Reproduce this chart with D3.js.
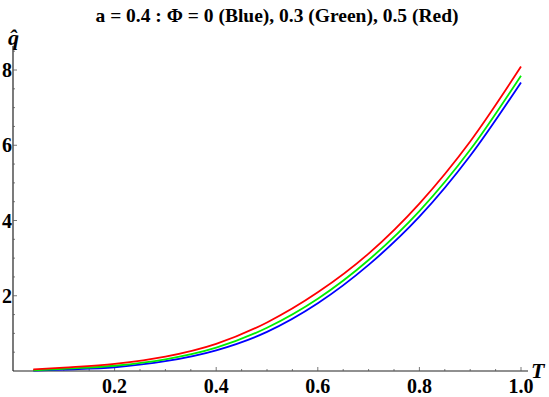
<!DOCTYPE html>
<html><head><meta charset="utf-8">
<script src="https://cdn.jsdelivr.net/npm/d3@7"></script>
<style>body{margin:0;background:#fff}svg{display:block}</style>
</head><body>
<script>
const title = "a = 0.4 : \u03A6 = 0 (Blue), 0.3 (Green), 0.5 (Red)";
const T = [0.04, 0.1, 0.2, 0.3, 0.4, 0.5, 0.6, 0.7, 0.8, 0.9, 1.0];
const qBlue  = [0.01, 0.04, 0.10, 0.26, 0.55, 1.04, 1.80, 2.82, 4.10, 5.72, 7.67];
const qGreen = [0.02, 0.06, 0.14, 0.31, 0.62, 1.15, 1.92, 2.95, 4.25, 5.88, 7.85];
const qRed   = [0.04, 0.09, 0.19, 0.38, 0.72, 1.29, 2.09, 3.12, 4.45, 6.10, 8.09];
const xTicks = [0.2, 0.4, 0.6, 0.8, 1.0];
const yTicks = [2, 4, 6, 8];
const seriesNames = ["Blue", "Green", "Red"];
const seriesColors = ["#0000ff", "#00ee00", "#ff0000"];

const FONT = "'Liberation Serif', 'Times New Roman', serif";
const W = 549, H = 397;
const svg = d3.select("body").append("svg").attr("width", W).attr("height", H);
const x = d3.scaleLinear().domain([0, 1]).range([13, 521]);
const y = d3.scaleLinear().domain([0, 8]).range([371, 70]);

svg.append("text").attr("x", 277).attr("y", 22).attr("text-anchor", "middle")
  .style("font-family", FONT).attr("font-weight", "bold").attr("font-size", 19.5)
  .text(title);

// axes lines
svg.append("line").attr("x1", x(0)).attr("x2", 528).attr("y1", y(0)).attr("y2", y(0))
  .attr("stroke", "#222").attr("stroke-width", 1.2);
svg.append("line").attr("x1", x(0)).attr("x2", x(0)).attr("y1", y(0)).attr("y2", 46)
  .attr("stroke", "#222").attr("stroke-width", 1.2);

// x ticks
const xMinor = d3.range(0.05, 1.04, 0.05);
svg.selectAll(".xm").data(xMinor).enter().append("line")
  .attr("x1", d => x(d)).attr("x2", d => x(d))
  .attr("y1", y(0)).attr("y2", d => y(0) - (Math.abs(d*5 - Math.round(d*5)) < 1e-6 ? 4 : 2))
  .attr("stroke", "#555").attr("stroke-width", 0.8);
svg.selectAll(".xl").data(xTicks).enter().append("text")
  .attr("x", d => x(d)).attr("y", 393).attr("text-anchor", "middle")
  .style("font-family", FONT).attr("font-weight", "bold").attr("font-size", 20)
  .text(d => d.toFixed(1));

// y ticks
const yMinor = d3.range(0.5, 8.6, 0.5);
svg.selectAll(".ym").data(yMinor).enter().append("line")
  .attr("y1", d => y(d)).attr("y2", d => y(d))
  .attr("x1", x(0)).attr("x2", d => x(0) + (d % 2 === 0 ? 4 : 2))
  .attr("stroke", "#555").attr("stroke-width", 0.8);
svg.selectAll(".yl").data(yTicks).enter().append("text")
  .attr("x", 12).attr("y", d => y(d) + 7).attr("text-anchor", "end")
  .style("font-family", FONT).attr("font-weight", "bold").attr("font-size", 20)
  .text(d => d);

// axis labels
svg.append("text").attr("x", 531).attr("y", 378)
  .style("font-family", FONT).attr("font-weight", "bold").attr("font-style", "italic").attr("font-size", 22)
  .text("T");
svg.append("text").attr("x", 8).attr("y", 45)
  .style("font-family", FONT).attr("font-weight", "bold").attr("font-style", "italic").attr("font-size", 22)
  .text("q\u0302");

// curves
const data = [qBlue, qGreen, qRed];
const line = d3.line().x((d, i) => x(T[i])).y(d => y(d)).curve(d3.curveMonotoneX);
data.forEach((s, k) => {
  svg.append("path").datum(s).attr("d", line).attr("fill", "none")
    .attr("stroke", seriesColors[k]).attr("stroke-width", 1.8)
    .attr("data-name", seriesNames[k]);
});
</script>
</body></html>
